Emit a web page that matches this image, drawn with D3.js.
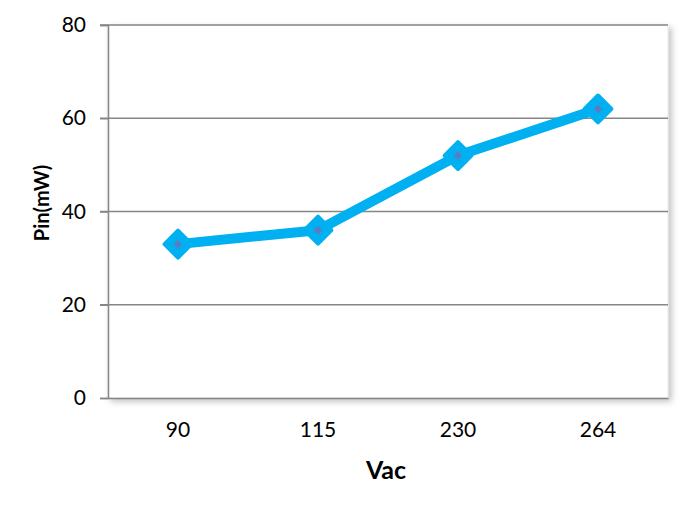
<!DOCTYPE html>
<html><head><meta charset="utf-8">
<script src="https://cdn.jsdelivr.net/npm/d3@7"></script>
<style>body{margin:0;background:#fff}svg{display:block}</style>
</head><body>
<script>
const categories = ["90","115","230","264"];
const values = [33, 36, 52, 62];
const yTicks = [0,20,40,60,80];

const W=691,H=512;
const m={l:108,r:23,t:25,b:114};
const FONT="Lato, 'Open Sans', sans-serif";
const svg=d3.select("body").append("svg").attr("width",W).attr("height",H);
const defs=svg.append("defs");
const f=defs.append("filter").attr("id","sh").attr("x","-5%").attr("y","-5%").attr("width","115%").attr("height","115%");
f.append("feDropShadow").attr("dx",3).attr("dy",3).attr("stdDeviation",3).attr("flood-color","#000").attr("flood-opacity",0.25);

const x=d3.scaleBand().domain(categories).range([m.l,W-m.r]);
const y=d3.scaleLinear().domain([0,80]).range([H-m.b,m.t]);

svg.append("rect").attr("x",m.l).attr("y",m.t).attr("width",W-m.l-m.r).attr("height",H-m.t-m.b)
  .attr("fill","#fff").attr("stroke","#e6e6e6").attr("stroke-width",1).attr("filter","url(#sh)");

svg.append("g").selectAll("line").data(yTicks.filter(d=>d>0)).join("line")
  .attr("x1",m.l-8).attr("x2",W-m.r).attr("y1",d=>y(d)).attr("y2",d=>y(d))
  .attr("stroke","#868686").attr("stroke-width",1.5);

const ya=svg.append("g").attr("transform",`translate(${m.l},0)`)
  .call(d3.axisLeft(y).tickValues(yTicks).tickSize(8).tickPadding(14));
ya.select(".domain").attr("stroke","#868686").attr("stroke-width",1.5);
ya.selectAll(".tick line").attr("stroke","#868686").attr("stroke-width",1.5);
ya.selectAll("text").attr("font-family",FONT).attr("font-size",21).attr("fill","#000");

const xa=svg.append("g").attr("transform",`translate(0,${H-m.b})`)
  .call(d3.axisBottom(x).tickSize(0).tickPadding(24));
xa.select(".domain").attr("stroke","#868686").attr("stroke-width",1.5);
xa.selectAll("text").attr("font-family",FONT).attr("font-size",21).attr("fill","#000");

const pts=categories.map((c,i)=>[x(c)+x.bandwidth()/2,y(values[i])]);
svg.append("path").attr("d",d3.line()(pts)).attr("fill","none")
  .attr("stroke","#00B0F0").attr("stroke-width",10).attr("stroke-linejoin","round");

svg.append("g").selectAll("path").data(pts).join("path")
  .attr("transform",d=>`translate(${d[0]},${d[1]}) rotate(45)`)
  .attr("d",d3.symbol().type(d3.symbolSquare).size(360)())
  .attr("fill","#00B0F0").attr("stroke","#00B0F0").attr("stroke-width",4).attr("stroke-linejoin","round");
svg.append("g").selectAll("path").data(pts).join("path")
  .attr("transform",d=>`translate(${d[0]},${d[1]}) rotate(45)`)
  .attr("d",d3.symbol().type(d3.symbolSquare).size(36)())
  .attr("fill","#5B7CC4");

svg.append("text").attr("x",386).attr("y",479).attr("text-anchor","middle")
  .attr("font-family",FONT).attr("font-weight","bold").attr("font-size",25).text("Vac");
svg.append("text").attr("transform","translate(49,203) rotate(-90)").attr("text-anchor","middle")
  .attr("font-family",FONT).attr("font-weight","bold").attr("font-size",20).text("Pin(mW)");
</script>
</body></html>
